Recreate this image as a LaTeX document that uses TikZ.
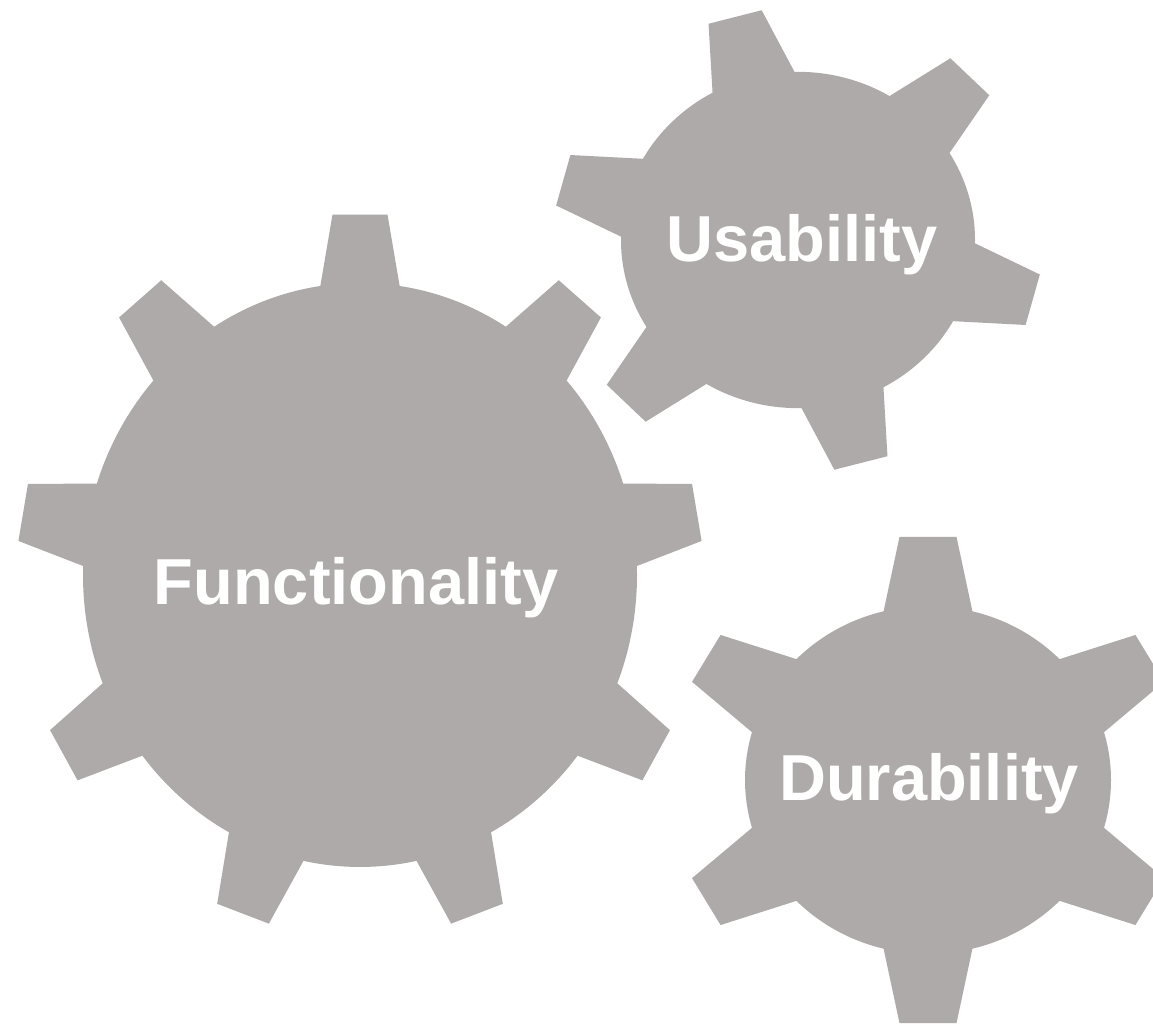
\documentclass[tikz,border=0pt]{standalone}
\usepackage{fontspec}
\setmainfont{Liberation Sans}
\definecolor{geargray}{HTML}{AEAAA9}

\begin{document}
\begin{tikzpicture}[x=0.02cm, y=0.02cm]
	\tikzset{gear/.style={fill=geargray},
		word/.style={text=white, font=\fontsize{37}{41}\selectfont\bfseries, anchor=base}}
	\useasboundingbox (0,0) rectangle (1153,1025);

	% big gear
	\begin{scope}[shift={(360,450)}, yscale=1.054]
		\fill[gear] (0,0) circle [radius=277];
		\foreach \a in {0,40,...,320}
			\fill[gear, rotate=\a] (-44,250) -- (-27.5,342) -- (27.5,342) -- (44,250) -- cycle;
	\end{scope}

	% upper gear
	\begin{scope}[shift={(798,785)}, yscale=0.95]
		\fill[gear] (0,0) circle [radius=177];
		\foreach \a in {15,75,...,315}
			\fill[gear, rotate=\a] (-47,150) -- (-27.5,243) -- (27.5,243) -- (47,150) -- cycle;
	\end{scope}

	% lower gear
	\begin{scope}[shift={(928,245)}, yscale=0.95]
		\fill[gear] (0,0) circle [radius=183];
		\foreach \a in {0,60,...,300}
			\fill[gear, rotate=\a] (-50,150) -- (-28.5,256) -- (28.5,256) -- (50,150) -- cycle;
	\end{scope}

	% labels
	\node[word] (func) at (356,420) {Functionality};
	\node[word] (usab) at (802,763) {Usability};
	\node[word] (dura) at (929,225) {Durability};
\end{tikzpicture}
\end{document}
